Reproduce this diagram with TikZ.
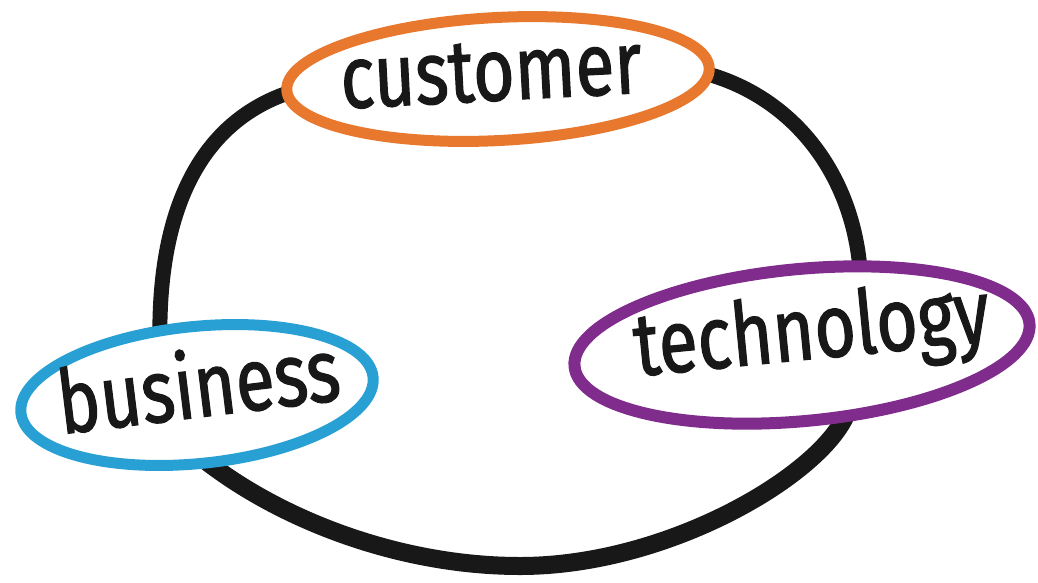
\documentclass[tikz,border=0pt]{standalone}
\usepackage{fontspec}
\newfontfamily\labfont[FakeStretch=0.8,FakeBold=1.3]{Fira Sans}
\usetikzlibrary{shapes.geometric,backgrounds}
\definecolor{custc}{RGB}{232,120,46}
\definecolor{techc}{RGB}{128,44,140}
\definecolor{busic}{RGB}{40,160,212}
\definecolor{loopc}{RGB}{24,24,24}
\begin{document}
\begin{tikzpicture}[x=1pt,y=-1pt,
  oval/.style={ellipse, draw, fill=white, inner sep=0pt},
  lab/.style={font=\labfont\fontsize{89}{89}\selectfont, text=loopc, inner sep=0pt},
  loopline/.style={draw=loopc, line width=15pt, line cap=round, line join=round}]
\useasboundingbox (0,0) rectangle (1038,582);
\node[oval, draw=custc, line width=11pt, minimum width=423pt, minimum height=123pt, rotate=3] (customer) at (498,79) {};
\node[oval, draw=techc, line width=12pt, minimum width=457pt, minimum height=152pt, rotate=5.4] (technology) at (802,345) {};
\node[oval, draw=busic, line width=11pt, minimum width=354pt, minimum height=137pt, rotate=5.8] (business) at (197,395) {};
\node[lab, rotate=3] (customerlabel) at (491,72) {customer};
\node[lab, rotate=5.6] (technologylabel) at (812,335) {technology};
\node[lab, rotate=7] (businesslabel) at (198,383) {business};
\begin{scope}[on background layer]
\draw[loopline] (business.center) -- (160,345) .. controls (157,210) and (200,125) .. (285,94) -- (customer.center);
\draw[loopline] (customer.center) -- (700,72) .. controls (795,95) and (860,180) .. (861,290) -- (technology.center);
\draw[loopline, line width=18pt] (technology.center) -- (850,400) .. controls (845,460) and (680,566) .. (520,566) .. controls (400,566) and (280,520) .. (202,458) -- (business.center);
\end{scope}
\end{tikzpicture}
\end{document}
